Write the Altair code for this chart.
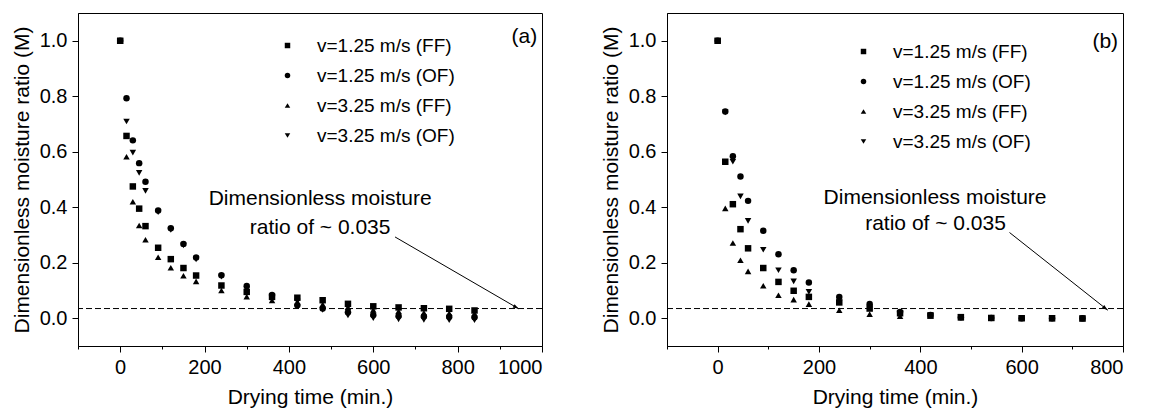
import altair as alt
import pandas as pd

FONT = "Liberation Sans"
SERIES = ["v=1.25 m/s (FF)", "v=1.25 m/s (OF)", "v=3.25 m/s (FF)", "v=3.25 m/s (OF)"]
SHAPES = ["square", "circle", "triangle-up", "triangle-down"]
THRESH = 0.035

# ---- panel (a) ----
T_A = [0, 15, 30, 45, 60, 90, 120, 150, 180, 240, 300, 360, 420, 480, 540, 600, 660, 720, 780, 840]
A_FF125 = [1.0, 0.657, 0.475, 0.395, 0.332, 0.254, 0.213, 0.181, 0.154, 0.118, 0.095, 0.077, 0.074, 0.065, 0.052, 0.043, 0.039, 0.036, 0.034, 0.028]
A_OF125 = [1.0, 0.793, 0.641, 0.559, 0.492, 0.388, 0.324, 0.268, 0.219, 0.155, 0.116, 0.084, 0.047, 0.035, 0.022, 0.012, 0.008, 0.006, 0.005, 0.004]
A_FF325 = [1.0, 0.582, 0.420, 0.334, 0.283, 0.220, 0.182, 0.153, 0.133, 0.100, 0.078, 0.064, 0.058, 0.050, 0.040, 0.030, 0.025, 0.020, 0.018, 0.016]
A_OF325 = [1.0, 0.709, 0.597, 0.524, 0.459, 0.382, 0.318, 0.262, 0.212, 0.150, 0.105, 0.080, 0.060, 0.030, 0.010, 0.000, -0.004, -0.006, -0.007, -0.007]

# ---- panel (b) ----
T_B = [0, 15, 30, 45, 60, 90, 120, 150, 180, 240, 300, 360, 420, 480, 540, 600, 660, 720]
B_FF125 = [1.0, 0.564, 0.411, 0.321, 0.252, 0.181, 0.131, 0.099, 0.077, 0.057, 0.035, 0.018, 0.010, 0.004, 0.001, 0.000, 0.000, -0.001]
B_OF125 = [1.0, 0.745, 0.584, 0.511, 0.423, 0.315, 0.231, 0.173, 0.129, 0.077, 0.051, 0.023, 0.012, 0.004, 0.001, 0.000, 0.000, 0.000]
B_FF325 = [1.0, 0.396, 0.271, 0.209, 0.169, 0.117, 0.083, 0.067, 0.051, 0.029, 0.015, 0.007, 0.008, 0.002, 0.000, 0.000, -0.001, -0.001]
B_OF325 = [1.0, 0.742, 0.564, 0.439, 0.351, 0.247, 0.173, 0.133, 0.095, 0.057, 0.040, 0.015, 0.010, 0.003, 0.000, 0.000, 0.000, 0.000]

ANN_LINES = ["Dimensionless moisture", "ratio of ~ 0.035"]
ANN_A_X = [474, 474]
ANN_A_Y = [0.428, 0.325]
ANN_B_X = [429, 430]
ANN_B_Y = [0.432, 0.340]
ARROW_A = [651.6, 0.293, 945, 0.034]
ARROW_B = [576, 0.309, 770, 0.029]
TAG_A = ["(a)", 958, 1.013]
TAG_B = ["(b)", 765, 0.997]

Y_TICKS = [0.0, 0.1, 0.2, 0.3, 0.4, 0.5, 0.6, 0.7, 0.8, 0.9, 1.0]
X_TICKS_A = [-100, 0, 100, 200, 300, 400, 500, 600, 700, 800, 900, 1000]
X_TICKS_B = [-100, 0, 100, 200, 300, 400, 500, 600, 700, 800]

ARROW_PATH = "M0,0 L-2.2,-0.7 L-2.2,0.7 Z"


def long_df(times, cols):
    rows = []
    for name, vals in zip(SERIES, cols):
        for t, v in zip(times, vals):
            rows.append({"t": t, "m": v, "s": name})
    return pd.DataFrame(rows)


def panel(df, xmax, width, xticks, lx, ly, ann_x, ann_y, arrow, angle, tag):
    xs = alt.Scale(domain=[-100, xmax], nice=False, zero=False)
    ys = alt.Scale(domain=[-0.1, 1.1], nice=False, zero=False)
    xaxis = alt.Axis(
        values=xticks, format="d", grid=False, title="Drying time (min.)",
        labelExpr="datum.value % 200 === 0 ? datum.label : ''",
        tickSize={"condition": {"test": "datum.value % 200 === 0", "value": 6}, "value": 3},
        labelPadding=5, titlePadding=9, labelOverlap=False,
    )
    yaxis = alt.Axis(
        values=Y_TICKS, format=".1f", grid=False, title="Dimensionless moisture ratio (M)",
        labelExpr="abs(round(datum.value * 10)) % 2 === 0 ? datum.label : ''",
        tickSize={"condition": {"test": "abs(round(datum.value * 10)) % 2 === 0", "value": 6}, "value": 3},
        labelPadding=5, titlePadding=7, labelOverlap=False,
    )
    legend = alt.Legend(
        title=None, orient="none", legendX=lx, legendY=ly, padding=0,
        labelFont=FONT, labelFontSize=19, labelColor="black",
        symbolSize=30, symbolFillColor="black", symbolStrokeColor="black",
        symbolStrokeWidth=0, rowPadding=10, labelOffset=20,
    )
    pts = alt.Chart(df).mark_point(filled=True, opacity=1, color="black", size=42).encode(
        x=alt.X("t:Q", scale=xs, axis=xaxis),
        y=alt.Y("m:Q", scale=ys, axis=yaxis),
        shape=alt.Shape("s:N", scale=alt.Scale(domain=SERIES, range=SHAPES), legend=legend),
    )
    thr = alt.Chart(pd.DataFrame({"m": [THRESH]})).mark_rule(
        color="black", strokeWidth=1, strokeDash=[6, 3]
    ).encode(y=alt.Y("m:Q", scale=ys))
    ann = alt.Chart(pd.DataFrame({"t": ann_x, "m": ann_y, "txt": ANN_LINES})).mark_text(
        font=FONT, fontSize=21, color="black", align="center", baseline="middle"
    ).encode(x=alt.X("t:Q", scale=xs), y=alt.Y("m:Q", scale=ys), text="txt:N")
    adf = pd.DataFrame({"t": [arrow[0]], "m": [arrow[1]], "t2": [arrow[2]], "m2": [arrow[3]]})
    line = alt.Chart(adf).mark_rule(color="black", strokeWidth=1).encode(
        x=alt.X("t:Q", scale=xs), y=alt.Y("m:Q", scale=ys), x2="t2:Q", y2="m2:Q"
    )
    head = alt.Chart(adf).mark_point(
        shape=ARROW_PATH, filled=True, color="black", opacity=1, size=30, angle=angle
    ).encode(x=alt.X("t2:Q", scale=xs), y=alt.Y("m2:Q", scale=ys))
    tg = alt.Chart(pd.DataFrame({"t": [tag[1]], "m": [tag[2]], "txt": [tag[0]]})).mark_text(
        font=FONT, fontSize=21, color="black", align="center", baseline="middle"
    ).encode(x=alt.X("t:Q", scale=xs), y=alt.Y("m:Q", scale=ys), text="txt:N")
    return alt.layer(thr, pts, ann, line, head, tg).properties(width=width, height=333)


pa = panel(long_df(T_A, [A_FF125, A_OF125, A_FF325, A_OF325]), 1000, 464, X_TICKS_A,
           200, 23, ANN_A_X, ANN_A_Y, ARROW_A, 30, TAG_A)
pb = panel(long_df(T_B, [B_FF125, B_OF125, B_FF325, B_OF325]), 800, 456, X_TICKS_B,
           187, 29, ANN_B_X, ANN_B_Y, ARROW_B, 38, TAG_B)

chart = alt.hconcat(pa, pb, spacing=56).resolve_scale(
    shape="independent", x="independent", y="independent"
).resolve_legend(shape="independent").properties(
    padding={"left": 2, "top": 4, "right": 0, "bottom": 0}
).configure_view(stroke="black", strokeWidth=1).configure_axis(
    domainColor="black", tickColor="black", labelColor="black", titleColor="black",
    labelFont=FONT, titleFont=FONT, labelFontSize=20, titleFontSize=21,
    titleFontWeight="normal", tickWidth=1, domainWidth=1,
)

chart.save("out.html", embed_options={"renderer": "svg", "actions": False})
